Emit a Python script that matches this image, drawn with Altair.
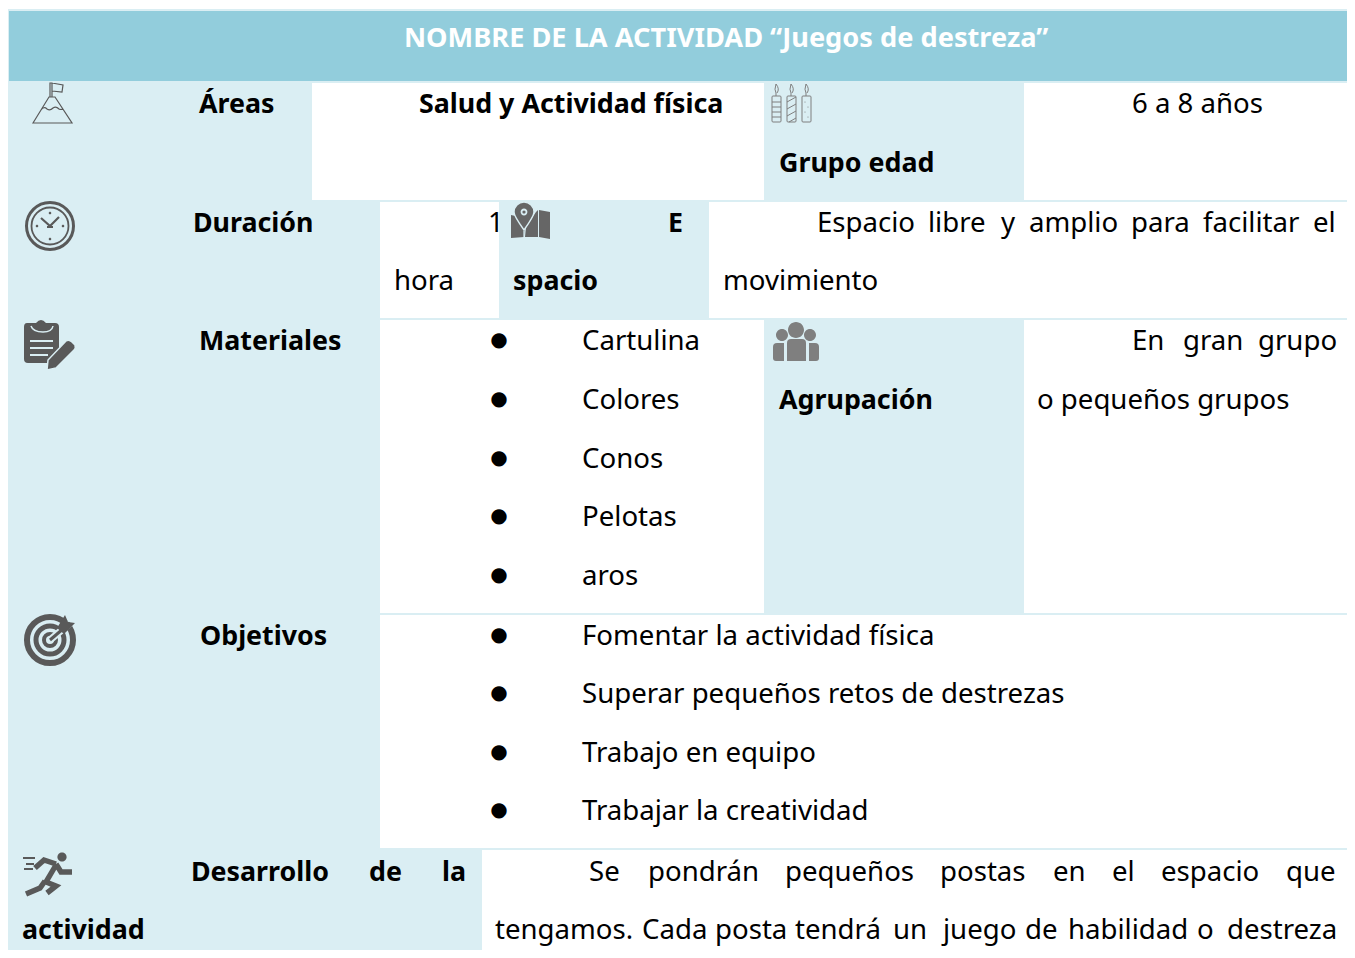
import altair as alt
import pandas as pd

FONT = "Noto Sans"
HEADER = "#92CDDC"
LIGHT = "#DAEEF3"
DARK = "#595959"
GREY = "#7F7F7F"

# table cells
cell_x0 = [8, 9, 312, 1024, 380, 709, 380, 1024, 380, 482]
cell_x1 = [1352, 1350, 764, 1350, 499, 1350, 764, 1350, 1350, 1350]
cell_y0 = [9, 11, 83, 83, 202, 202, 320, 320, 615, 850]
cell_y1 = [958, 81, 200, 200, 318, 318, 613, 613, 848, 958]
cell_fill = [LIGHT, HEADER, "white", "white", "white", "white", "white", "white", "white", "white"]

# title
title_text = ["NOMBRE DE LA ACTIVIDAD “Juegos de destreza”"]
title_x = [404]
title_y = [47]

# bold labels
bold_text = ["Áreas", "Salud y Actividad física", "Grupo edad", "Duración", "E", "spacio", "Materiales",
             "Agrupación", "Objetivos", "Desarrollo", "de", "la", "actividad"]
bold_x = [199, 419, 779, 193, 668, 513, 199, 779, 200, 191, 369, 442, 22]
bold_y = [113, 113, 172, 232, 232, 290, 350, 409, 645, 881, 881, 881, 939]

# regular text
reg_text = ["6 a 8 años", "1", "hora",
            "Espacio", "libre", "y", "amplio", "para", "facilitar", "el", "movimiento",
            "Cartulina", "Colores", "Conos", "Pelotas", "aros",
            "En", "gran", "grupo", "o pequeños grupos",
            "Fomentar la actividad física", "Superar pequeños retos de destrezas",
            "Trabajo en equipo", "Trabajar la creatividad",
            "Se", "pondrán", "pequeños", "postas", "en", "el", "espacio", "que",
            "tengamos.", "Cada", "posta", "tendrá", "un", "juego", "de", "habilidad", "o", "destreza"]
reg_x = [1132, 488, 394,
         817, 928, 1001, 1029, 1131, 1203, 1313, 723,
         582, 582, 582, 582, 582,
         1132, 1183, 1258, 1037,
         582, 582, 582, 582,
         589, 648, 785, 940, 1053, 1112, 1161, 1286,
         495, 642, 715, 795, 893, 943, 1025, 1068, 1197, 1227]
reg_y = [113, 232, 290,
         232, 232, 232, 232, 232, 232, 232, 290,
         350, 409, 468, 526, 585,
         350, 350, 350, 409,
         645, 703, 762, 820,
         881, 881, 881, 881, 881, 881, 881, 881,
         939, 939, 939, 939, 939, 939, 939, 939, 939, 939]

# list bullets
bullet_text = ["●"] * 9
bullet_x = [499] * 9
bullet_y = [346, 405, 464, 522, 581, 641, 699, 758, 816]


def ring(r):
    return f"M{-r} 0 A{r} {r} 0 1 1 {r} 0 A{r} {r} 0 1 1 {-r} 0 Z"


def disc(cx, cy, r):
    return f"M{cx-r} {cy} A{r} {r} 0 1 1 {cx+r} {cy} A{r} {r} 0 1 1 {cx-r} {cy} Z"


# icon pieces: outline shapes in pixels around the icon's anchor
icon_x, icon_y, icon_path, icon_fill, icon_stroke, icon_sw = [], [], [], [], [], []


def piece(cx, cy, path, fill="transparent", stroke="transparent", sw=0):
    icon_x.append(cx); icon_y.append(cy); icon_path.append(path)
    icon_fill.append(fill); icon_stroke.append(stroke); icon_sw.append(sw)


# mountain
piece(52, 103, "M-19 20 L-3 -6 L3 -6 L20 20 Z M-2 -6 L-2 -20 L0 -20 L0 -6 M0 -20 L11 -18 L10 -11 L0 -12 "
      "M-11 7 Q-8 3 -5 6 Q-2 8 1 5 Q4 3 7 6 Q9 7 11 6", stroke=DARK, sw=1.2)
# clock
piece(50, 226, ring(23.5), stroke=DARK, sw=3)
piece(50, 226, ring(18.5), stroke=DARK, sw=1.8)
piece(50, 226, "M-9 -8 L0 0 L9 -9 M-3 1 L3 1", stroke=DARK, sw=2.2)
piece(50, 226, disc(0, -13, 1.3) + disc(0, 13, 1.3) + disc(-13, 0, 1.3) + disc(13, 0, 1.3), fill=DARK)
# clipboard and pencil
piece(50, 345, "M-23 -22 L-14 -22 Q-9 -28 -4 -22 L5 -22 Q9 -22 9 -18 L9 6 L-3 18 L-22 18 Q-26 18 -26 14 L-26 -18 Q-26 -22 -23 -22 Z", fill=DARK)
piece(50, 345, "M-19 -19 Q-17 -13 -7 -13 Q2 -13 3 -19", stroke=LIGHT, sw=1.5)
piece(50, 345, "M-20 -4 L3 -4 M-20 3 L3 3 M-20 10 L-2 10", stroke=LIGHT, sw=1.8)
piece(50, 345, "M-3 25 L-2 15 L16 -4 Q19 -6 22 -3 L25 0 Q26 3 24 5 L6 23 Z", fill=DARK, stroke=LIGHT, sw=1.5)
# target
piece(50, 640, ring(23), stroke=DARK, sw=6)
piece(50, 640, ring(14), stroke=DARK, sw=5)
piece(50, 640, ring(6), stroke=DARK, sw=4)
piece(50, 640, "M0 0 L20 -17", stroke=LIGHT, sw=7)
piece(50, 640, "M0 0 L20 -17", stroke=DARK, sw=3)
piece(50, 640, "M7 -12 L15 -25 L18 -18 L25 -17 L14 -6 Z", fill=DARK)
# runner
piece(48, 875, disc(14, -18, 4.6), fill=DARK)
piece(48, 875, "M8 -10 L-2 7 L8 11 L-1 18 M-3 6 L-8 13 L-22 19 M8 -11 L13 -3 L24 -3 M8 -11 L-4 -15 L-13 -7",
      stroke=DARK, sw=5.4)
piece(48, 875, "M-25 -17 L-13 -17 M-22 -11 L-14 -11 M-24 -6 L-15 -6", stroke=DARK, sw=1.8)
# candles
piece(791, 103, "M-18 -7 Q-19 -7 -19 -6 L-19 18 Q-19 19 -18 19 L-11 19 Q-10 19 -10 18 L-10 -6 Q-10 -7 -11 -7 Z "
      "M-19 -1 L-10 -1 M-19 4 L-10 4 M-19 9 L-10 9 M-19 14 L-10 14 "
      "M-15 -7 L-15 -10 Q-17 -13 -15 -19 Q-11 -14 -14 -10", stroke=GREY, sw=1)
piece(791, 103, "M-3 -7 Q-4 -7 -4 -6 L-4 18 Q-4 19 -3 19 L4 19 Q5 19 5 18 L5 -6 Q5 -7 4 -7 Z "
      "M-4 -1 L5 -6 M-4 6 L5 1 M-4 13 L5 8 M-2 19 L5 15 "
      "M0 -7 L0 -10 Q-2 -13 0 -19 Q4 -14 1 -10", stroke=GREY, sw=1)
piece(791, 103, "M12 -7 Q11 -7 11 -6 L11 18 Q11 19 12 19 L19 19 Q20 19 20 18 L20 -6 Q20 -7 19 -7 Z "
      "M15 -7 L15 -10 Q13 -13 15 -19 Q19 -14 16 -10", stroke=GREY, sw=1)
piece(791, 103, disc(14, -1, .6) + disc(17, 4, .6) + disc(14, 9, .6) + disc(17, 14, .6), fill=GREY)
# map with pin
piece(531, 222, "M-20 -7 L-11 -5 L-6 4 L-7 15 L-20 16 Z M-6 15 L-5 5 L5 -10 L7 -12 L7 15 Z M8 -12 L19 -10 L19 17 L8 15 Z", fill="#666666")
piece(531, 222, "M-7 8 Q-17 -6 -17 -10 A10 10 0 1 1 3 -10 Q3 -6 -7 8 Z", fill="#666666", stroke=LIGHT, sw=1.4)
piece(531, 222, disc(-7, -10, 3.4), fill=LIGHT)
piece(531, 222, disc(-7, -10, 1.6), fill="#666666")
piece(531, 222, "M-7 9 L-7 16", stroke=LIGHT, sw=1.2)
# people
piece(796, 342, disc(0, -12, 8) + disc(-14, -7, 6) + disc(14, -7, 6), fill=GREY)
piece(796, 342, "M-9 1 Q-9 -3 -5 -3 L6 -3 Q10 -3 10 1 L10 19 L-9 19 Z", fill=GREY)
piece(796, 342, "M-23 5 Q-23 1 -19 1 L-12 1 L-12 19 L-20 19 Q-23 19 -23 16 Z", fill=GREY)
piece(796, 342, "M13 1 L19 1 Q23 1 23 5 L23 16 Q23 19 20 19 L13 19 Z", fill=GREY)

# page pixels of the reference: the svg starts 8px in
W, H = 1339, 942
sx = alt.Scale(domain=[8, 8 + W], nice=False, zero=False)
sy = alt.Scale(domain=[8 + H, 8], nice=False, zero=False)
X = alt.X("x:Q", scale=sx, axis=None)
Y = alt.Y("y:Q", scale=sy, axis=None)

cells = alt.Chart(pd.DataFrame({"x": cell_x0, "x2": cell_x1, "y": cell_y0, "y2": cell_y1, "fill": cell_fill})).mark_rect(
    strokeWidth=0).encode(X, Y, x2="x2:Q", y2="y2:Q", fill=alt.Fill("fill:N", scale=None))


def text_layer(labels, xs, ys, size, weight, colour="black", align="left", font=FONT):
    return alt.Chart(pd.DataFrame({"x": xs, "y": ys, "t": labels})).mark_text(
        align=align, baseline="alphabetic", font=font, fontSize=size, fontWeight=weight, color=colour
    ).encode(X, Y, text="t:N")


icons = alt.Chart(pd.DataFrame({"x": icon_x, "y": icon_y, "p": icon_path, "f": icon_fill,
                                "s": icon_stroke, "w": icon_sw,
                                "o": list(range(len(icon_x)))})).mark_point(size=4, opacity=1).encode(
    X, Y,
    shape=alt.Shape("p:N", scale=None),
    fill=alt.Fill("f:N", scale=None),
    stroke=alt.Stroke("s:N", scale=None),
    strokeWidth=alt.StrokeWidth("w:Q", scale=None),
    order="o:Q",
)

chart = alt.layer(
    cells,
    text_layer(title_text, title_x, title_y, 27.2, "bold", "white"),
    text_layer(bold_text, bold_x, bold_y, 26.8, "bold"),
    text_layer(reg_text, reg_x, reg_y, 27.6, "normal"),
    text_layer(bullet_text, bullet_x, bullet_y, 20, "normal", align="center", font="DejaVu Sans"),
    icons,
).properties(width=W, height=H, padding=0, background="white",
             autosize=alt.AutoSizeParams(type="none")).configure_view(stroke=None)

chart.save("out.html", embed_options={"renderer": "svg", "actions": False})
